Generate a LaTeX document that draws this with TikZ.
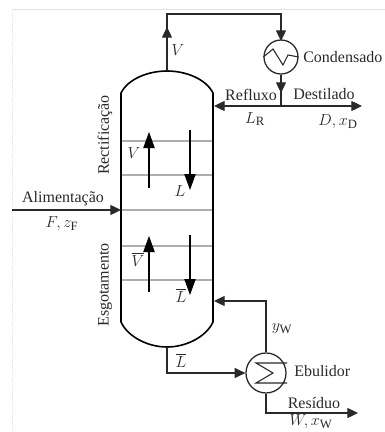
\documentclass[tikz,border=0pt]{standalone}
\usepackage{amsmath}
\usepackage{xcolor}
\usepackage{fontspec}
\setmainfont{Liberation Serif}
\usetikzlibrary{calc}
\usetikzlibrary{arrows.meta}
\definecolor{traygray}{gray}{0.68}
\definecolor{inkgray}{gray}{0.16}
\tikzset{
  every node/.style = {font = \fontsize{12}{14}\selectfont, text=inkgray, inner sep=0pt}
}
\tikzset{
  >={Triangle[length=8pt,width=7.5pt]}
}
\tikzset{
  column wall/.style = {line width=1.2pt, draw=black},
  tray/.style = {line width=1.1pt, draw=traygray},
  stream/.style = {line width=0.95pt, draw=inkgray},
  inner stream/.style = {line width=0.8pt, draw=black, >={Triangle[length=12pt,width=8.5pt]}},
  symbol/.style = {font = \fontsize{12.5}{14}\selectfont},
  exchanger/.style = {circle, draw=inkgray, line width=0.95pt, fill=white, minimum size=#1}
}
\newcommand{\drawtray}[2]{
  \draw[tray] (121,#1) coordinate (#2a) -- (213,#1) coordinate (#2b);
}
\newcommand{\subs}[1]{_{\text{\fontsize{9.5}{10}\selectfont #1}}}
\begin{document}
\begin{tikzpicture}[x=0.75pt, y=-0.75pt]
  \useasboundingbox (0,0) rectangle (385,432);

  \coordinate (framea) at (12,9);
  \coordinate (frameb) at (385,9);
  \coordinate (framec) at (12,432);
  \draw[line width=0.4pt, black!12] (framea) -- (frameb);
  \draw[line width=0.4pt, black!10, densely dotted] (framea) -- (framec);

  % trays
  \drawtray{141}{trayA}
  \drawtray{175}{trayB}
  \drawtray{210}{trayC}
  \drawtray{246}{trayD}
  \drawtray{280}{trayE}

  % column
  \coordinate (top) at (167,71);
  \coordinate (bottom) at (167,347);
  \coordinate (refluxin) at (214,106);
  \coordinate (vapourin) at (214,301);
  \draw[column wall] (121,322) -- (121,93)
    .. controls (128,79) and (148,71) .. (top)
    .. controls (186,71) and (206,79) .. (213,93) -- (213,322)
    .. controls (206,337) and (186,347) .. (bottom)
    .. controls (148,347) and (128,337) .. cycle;

  % condenser and reboiler
  \node[exchanger=25.5pt] (cond) at (281,57) {};
  \node[exchanger=30pt] (reb) at (266,373) {};
  \draw[stream, line width=0.8pt] (cond.west) -- (273,49) -- (283,65) -- (288,55) -- (cond.east);
  \draw[stream, line width=0.8pt] (287,363) -- (256,363) -- (273,373) -- (256,383) -- (287,383);

  % overhead
  \coordinate (overa) at (167,14);
  \coordinate (overb) at (281,14);
  \coordinate (vhead) at (167,27);
  \coordinate (chead) at (281,41);
  \coordinate (split) at (281,106);
  \coordinate (dest) at (362,106);
  \draw[stream] (top) -- (overa) -- (overb) -- (cond.north);
  \draw[stream,->] (top) -- (vhead);
  \draw[stream,->] (overb) -- (chead);
  \draw[stream] (cond.south) -- (split);
  \coordinate (rhead) at (281,93);
  \draw[stream,->] (cond.south) -- (rhead);
  \draw[stream,->] (split) -- (refluxin);
  \draw[stream,->] (split) -- (dest);

  % feed
  \coordinate (feed) at (12,210);
  \draw[stream,->] (feed) -- (trayCa);

  % bottoms
  \coordinate (bota) at (167,373);
  \coordinate (reta) at (266,301);
  \coordinate (resa) at (266,413);
  \coordinate (resb) at (358,413);
  \draw[stream,->] (bottom) -- (bota) -- (reb.west);
  \draw[stream,->] (reb.north) -- (reta) -- (vapourin);
  \draw[stream,->] (reb.south) -- (resa) -- (resb);

  % inside the column
  \coordinate (vupa) at (149,188);
  \coordinate (vupb) at (149,132);
  \coordinate (ldna) at (190,130);
  \coordinate (ldnb) at (190,190);
  \coordinate (vloa) at (149,292);
  \coordinate (vlob) at (149,236);
  \coordinate (lloa) at (190,235);
  \coordinate (llob) at (190,295);
  \draw[inner stream,->] (vupa) -- (vupb);
  \draw[inner stream,->] (ldna) -- (ldnb);
  \draw[inner stream,->] (vloa) -- (vlob);
  \draw[inner stream,->] (lloa) -- (llob);

  \node[symbol] (lv) at (178,50) {$V$};
  \node (lcond) [anchor=west] at (303,57) {Condensado};
  \node (lrefl) at (251,95) {Refluxo};
  \node (ldest) at (324,94) {Destilado};
  \node[symbol] (llr) at (255,119) {$L\subs{R}$};
  \node[symbol] (ldx) at (338,122) {$D,x\subs{D}$};
  \node (lrect) [rotate=90] at (105,135) {Rectificação};
  \node[symbol] (lvin) at (134,153) {$V$};
  \node[symbol] (llin) at (180,191) {$L$};
  \node (lalim) at (63,199) {Alimentação};
  \node[symbol] (lfz) at (62,224) {$F,z\subs{F}$};
  \node (lesg) [rotate=90] at (105,285) {Esgotamento};
  \node[symbol] (lvbar) at (138,259) {$\overline{V}$};
  \node[symbol] (llbar) at (181,295) {$\overline{L}$};
  \node[symbol] (llbot) at (181,360) {$\overline{L}$};
  \node[symbol] (lyw) at (282,329) {$y\subs{W}$};
  \node (lebu) [anchor=west] at (294,371) {Ebulidor};
  \node (lres) at (314,403) {Resíduo};
  \node[symbol] (lwx) at (311,422) {$W,x\subs{W}$};
\end{tikzpicture}
\end{document}
